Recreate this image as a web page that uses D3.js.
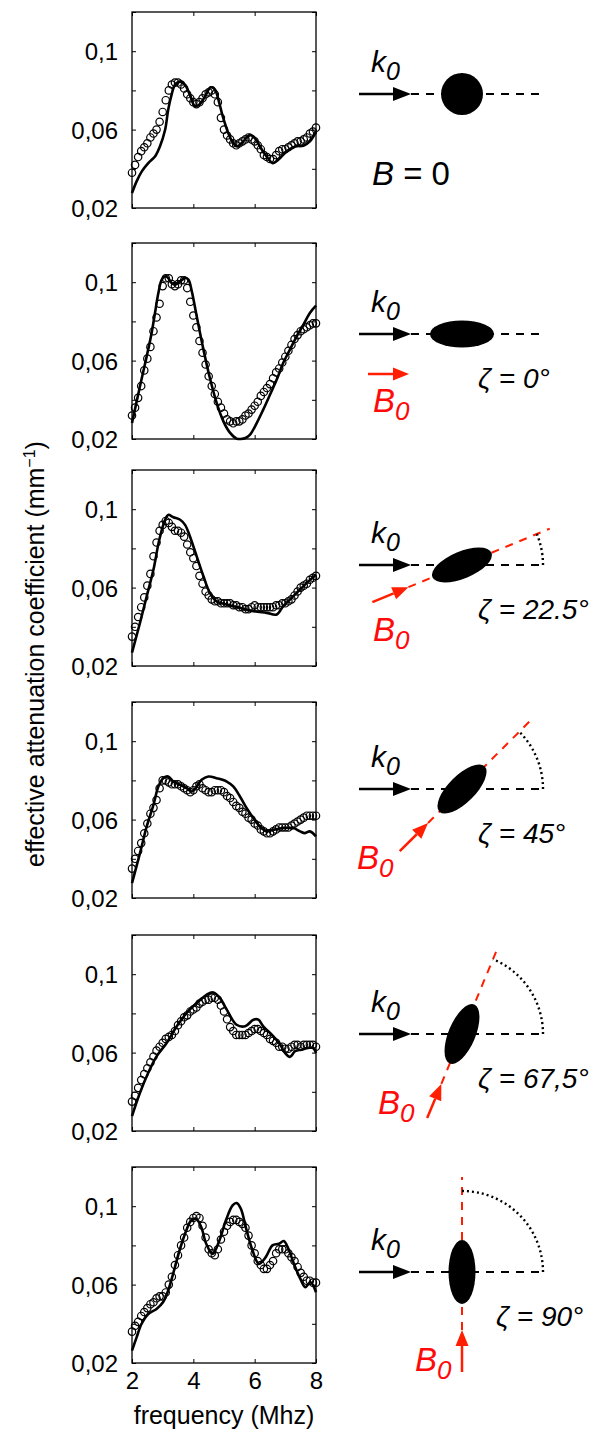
<!DOCTYPE html>
<html>
<head>
<meta charset="utf-8">
<script src="https://cdn.jsdelivr.net/npm/d3@7"></script>
<style>
  body { margin: 0; background: #fff; }
  svg { display: block; }
</style>
</head>
<body>
<svg id="chart"></svg>
<script>
// measured points (circles), one value every 0.1 MHz
var measFreq = [2.0,2.1,2.2,2.3,2.4,2.5,2.6,2.7,2.8,2.9,
                3.0,3.1,3.2,3.3,3.4,3.5,3.6,3.7,3.8,3.9,
                4.0,4.1,4.2,4.3,4.4,4.5,4.6,4.7,4.8,4.9,
                5.0,5.1,5.2,5.3,5.4,5.5,5.6,5.7,5.8,5.9,
                6.0,6.1,6.2,6.3,6.4,6.5,6.6,6.7,6.8,6.9,
                7.0,7.1,7.2,7.3,7.4,7.5,7.6,7.7,7.8,7.9,8.0];

var meas0 = [.038,.042,.046,.049,.051,.053,.056,.058,.060,.064,
             .069,.075,.080,.083,.084,.084,.083,.081,.078,.076,
             .074,.073,.074,.076,.078,.079,.080,.078,.074,.066,
             .060,.057,.055,.053,.052,.053,.054,.055,.056,.055,
             .054,.052,.050,.047,.046,.045,.045,.047,.049,.050,
             .050,.051,.052,.053,.054,.054,.055,.056,.058,.059,.061];
var meas1 = [.032,.036,.041,.047,.055,.061,.067,.075,.082,.089,
             .098,.102,.102,.099,.098,.099,.101,.101,.097,.090,
             .083,.077,.070,.064,.058,.052,.047,.043,.039,.036,
             .033,.030,.029,.028,.029,.029,.030,.032,.033,.035,
             .037,.039,.042,.044,.046,.048,.051,.054,.056,.059,
             .062,.065,.068,.071,.073,.075,.076,.077,.078,.079,.079];
var meas2 = [.035,.040,.045,.050,.055,.061,.067,.076,.083,.089,
             .092,.094,.093,.091,.089,.089,.088,.086,.082,.078,
             .075,.071,.066,.062,.058,.056,.054,.053,.053,.052,
             .052,.052,.052,.051,.051,.050,.050,.049,.049,.050,
             .051,.050,.050,.050,.050,.050,.050,.051,.051,.052,
             .052,.053,.054,.056,.058,.060,.061,.062,.064,.065,.066];
var meas3 = [.035,.040,.044,.048,.053,.058,.063,.066,.070,.076,
             .080,.080,.079,.078,.078,.078,.077,.076,.075,.074,
             .075,.077,.078,.076,.075,.074,.074,.075,.075,.075,
             .074,.072,.071,.069,.067,.066,.064,.063,.061,.060,
             .058,.057,.055,.054,.053,.053,.054,.055,.056,.056,
             .056,.056,.057,.058,.059,.060,.061,.062,.062,.062,.062];
var meas4 = [.035,.038,.042,.046,.049,.052,.055,.058,.061,.063,
             .065,.067,.068,.069,.071,.074,.076,.078,.079,.081,
             .082,.083,.085,.086,.087,.087,.088,.088,.087,.084,
             .081,.077,.073,.071,.069,.069,.069,.069,.070,.071,
             .072,.072,.071,.070,.069,.067,.066,.065,.063,.063,
             .062,.062,.063,.064,.064,.063,.064,.064,.064,.064,.063];
var meas5 = [.036,.039,.041,.044,.046,.048,.050,.051,.053,.054,
             .054,.056,.060,.064,.070,.075,.080,.084,.089,.092,
             .094,.095,.094,.090,.084,.078,.076,.075,.078,.083,
             .087,.090,.092,.093,.093,.092,.091,.089,.085,.080,
             .076,.072,.070,.068,.068,.070,.072,.076,.078,.078,
             .078,.076,.074,.072,.069,.066,.064,.062,.062,.061,.061];

// model curves (solid lines), [frequency MHz, attenuation mm^-1]
var fit0 = [[2.0,.0276],[2.15,.0336],[2.32,.0387],[2.53,.0429],[2.75,.0463],[2.91,.0514],[3.08,.0599],[3.18,.0701],
            [3.29,.0777],[3.40,.0828],[3.57,.0845],[3.73,.0828],[3.89,.0777],[4.05,.0721],[4.22,.0731],[4.38,.0769],
            [4.57,.0816],[4.71,.0803],[4.82,.0752],[4.96,.0667],[5.14,.0582],[5.30,.0531],[5.43,.0514],[5.63,.054],
            [5.85,.0574],[6.01,.0557],[6.17,.0514],[6.39,.0463],[6.59,.0429],[6.77,.0446],[7.04,.0489],[7.32,.0514],
            [7.59,.0518],[7.80,.054],[8.0,.059]];
var fit1 = [[2.0,.0282],[2.26,.0469],[2.48,.0622],[2.64,.0741],[2.75,.0843],[2.86,.0945],[2.97,.1013],[3.08,.103],
            [3.18,.1021],[3.29,.0996],[3.40,.0987],[3.57,.1004],[3.73,.1021],[3.84,.1013],[3.95,.0953],[4.11,.0826],
            [4.33,.0656],[4.54,.0511],[4.76,.0384],[4.98,.029],[5.2,.0231],[5.41,.0202],[5.55,.0200],[5.7,.0205],
            [5.85,.0222],[6.07,.0282],[6.28,.035],[6.5,.0426],[6.72,.0503],[6.93,.0588],[7.15,.0656],[7.37,.0724],
            [7.59,.0783],[7.8,.0843],[8.0,.088]];
var fit2 = [[2.0,.0268],[2.26,.042],[2.48,.0556],[2.7,.0692],[2.89,.0844],[3.08,.0946],[3.18,.0971],[3.35,.0959],
            [3.57,.0946],[3.73,.092],[3.89,.0861],[4.11,.0759],[4.33,.0658],[4.54,.0573],[4.76,.053],[5.09,.0514],
            [5.52,.0497],[5.96,.048],[6.39,.0471],[6.72,.0463],[6.93,.0505],[7.15,.0539],[7.37,.0573],[7.7,.0624],
            [8.0,.0666]];
var fit3 = [[2.0,.0276],[2.26,.0429],[2.48,.0565],[2.7,.0675],[2.86,.0769],[3.02,.0811],[3.18,.082],[3.35,.0794],
            [3.57,.0777],[3.78,.076],[3.95,.0743],[4.11,.0769],[4.27,.0803],[4.49,.082],[4.76,.0811],[5.09,.0794],
            [5.3,.0769],[5.52,.0718],[5.74,.0658],[5.96,.0607],[6.17,.0565],[6.39,.054],[6.61,.0548],[6.93,.0557],
            [7.26,.0557],[7.48,.054],[7.64,.0531],[7.8,.054],[8.0,.0514]];
var fit4 = [[2.0,.0276],[2.26,.0395],[2.53,.0497],[2.8,.0581],[3.13,.0649],[3.46,.0734],[3.78,.0802],[4.11,.0853],
            [4.43,.0895],[4.65,.0907],[4.87,.0878],[5.09,.0819],[5.41,.0742],[5.69,.0734],[5.96,.0768],[6.12,.0768],
            [6.28,.0734],[6.61,.0683],[6.83,.0641],[6.99,.0598],[7.15,.0578],[7.32,.0607],[7.53,.0615],[7.75,.0624],
            [7.91,.0624],[8.0,.0598]];
var fit5 = [[2.0,.0263],[2.15,.0331],[2.31,.0399],[2.53,.045],[2.8,.0476],[3.01,.051],[3.18,.057],[3.34,.0655],
            [3.55,.0774],[3.77,.0876],[3.93,.0927],[4.09,.0936],[4.26,.0893],[4.42,.0808],[4.63,.0757],[4.85,.0825],
            [5.06,.0927],[5.28,.1004],[5.41,.1016],[5.55,.0987],[5.71,.0893],[5.93,.0774],[6.14,.0706],[6.36,.074],
            [6.58,.08],[6.79,.0808],[6.95,.0822],[7.12,.0774],[7.28,.0706],[7.49,.0629],[7.65,.0587],[7.82,.0612],
            [8.0,.0561]];

var measured = [meas0, meas1, meas2, meas3, meas4, meas5];
var fits = [fit0, fit1, fit2, fit3, fit4, fit5];

// angle between k0 and B0 for each row (first row: no field)
var zetaDeg = [null, 0, 22.5, 45, 67.5, 90];
var zetaText = ["", "\u03B6 = 0\u00B0", "\u03B6 = 22.5\u00B0", "\u03B6 = 45\u00B0", "\u03B6 = 67,5\u00B0", "\u03B6 = 90\u00B0"];

var xTicks = [2, 4, 6, 8];
var yTicks = [0.02, 0.04, 0.06, 0.08, 0.1, 0.12];
var yTickLabels = ["0,02", "", "0,06", "", "0,1", ""];

// ---- layout ----
var W = 599, H = 1435;
var plotLeft = 132, plotW = 184, plotH = 196;
var panelTop = [12, 243, 470, 702, 935, 1167];
var diagY = [94, 334, 565, 789, 1034, 1272];
var diagX = 462;
var bLabelPos = [[372, 91], [373, 84], [373, 82], [357, 86], [378, 86], [415, 105]];
var bArrowDist = [null, null, [58, 97], [48, 88], [54, 91], [58, 100]];
var FONT = "'Liberation Sans', Arial, Helvetica, sans-serif";
var RED = "#ff1e00";
var RED_TEXT = "#ff0a0a";

var svg = d3.select("#chart").attr("width", W).attr("height", H)
    .style("font-family", FONT);

var x = d3.scaleLinear().domain([2, 8]).range([0, plotW]);
var y = d3.scaleLinear().domain([0.02, 0.12]).range([plotH, 0]);

var line = d3.line()
    .x(function(d) { return x(d[0]); })
    .y(function(d) { return y(d[1]); })
    .curve(d3.curveCatmullRom.alpha(0.5));

function drawPanel(i) {
    var g = svg.append("g").attr("transform", "translate(" + plotLeft + "," + panelTop[i] + ")");

    g.append("path")
        .datum(fits[i])
        .attr("d", line)
        .attr("fill", "none")
        .attr("stroke", "#000")
        .attr("stroke-width", 2.6)
        .attr("stroke-linejoin", "round");

    g.selectAll("circle.meas")
        .data(measured[i])
        .enter().append("circle")
        .attr("class", "meas")
        .attr("cx", function(d, k) { return x(measFreq[k]); })
        .attr("cy", function(d) { return y(d); })
        .attr("r", 3.7)
        .attr("fill", "none")
        .attr("stroke", "#000")
        .attr("stroke-width", 1.2);

    var isLast = i === fits.length - 1;

    var left = g.append("g").call(d3.axisLeft(y).tickValues(yTicks)
        .tickSize(-4).tickSizeOuter(0).tickPadding(14)
        .tickFormat(function(d, k) { return yTickLabels[k]; }));
    var right = g.append("g").attr("transform", "translate(" + plotW + ",0)")
        .call(d3.axisRight(y).tickValues(yTicks).tickSize(-4).tickSizeOuter(0).tickFormat(""));
    var top = g.append("g")
        .call(d3.axisTop(x).tickValues(xTicks).tickSize(-4).tickSizeOuter(0).tickFormat(""));
    var bottom = g.append("g").attr("transform", "translate(0," + plotH + ")")
        .call(d3.axisBottom(x).tickValues(xTicks).tickSize(-4).tickSizeOuter(0).tickPadding(9)
            .tickFormat(isLast ? d3.format("d") : ""));

    [left, right, top, bottom].forEach(function(a) {
        a.selectAll("path.domain").remove();
        a.selectAll(".tick line").attr("stroke", "#000").attr("stroke-width", 1);
        a.selectAll(".tick text")
            .attr("fill", "#000")
            .style("font-size", "24px")
            .style("font-family", FONT);
    });
    left.selectAll(".tick text").attr("dy", "0.36em");
    bottom.selectAll(".tick text").attr("dy", "0.72em");

    g.append("rect")
        .attr("width", plotW)
        .attr("height", plotH)
        .attr("fill", "none")
        .attr("stroke", "#000")
        .attr("stroke-width", 1.3);
}

function arrow(g, x1, y1, x2, y2, color, headLen, headHalf, width) {
    var a = Math.atan2(y2 - y1, x2 - x1);
    var bx = x2 - headLen * Math.cos(a), by = y2 - headLen * Math.sin(a);
    g.append("line")
        .attr("x1", x1).attr("y1", y1).attr("x2", bx).attr("y2", by)
        .attr("stroke", color).attr("stroke-width", width);
    var px = -Math.sin(a) * headHalf, py = Math.cos(a) * headHalf;
    g.append("path")
        .attr("d", "M" + x2 + "," + y2 + "L" + (bx + px) + "," + (by + py) + "L" + (bx - px) + "," + (by - py) + "Z")
        .attr("fill", color);
}

function subText(g, xPos, yPos, main, sub, color, mainSize, subSize) {
    var t = g.append("text")
        .attr("x", xPos).attr("y", yPos)
        .attr("fill", color)
        .style("font-style", "italic");
    t.append("tspan").style("font-size", mainSize + "px").text(main);
    t.append("tspan").attr("dy", 8).style("font-size", subSize + "px").text(sub);
    return t;
}

function drawDiagram(i) {
    var g = svg.append("g");
    var cx = diagX, cy = diagY[i], R = 81;
    var z = zetaDeg[i];

    // dashed continuation of k0
    g.append("line")
        .attr("x1", 411).attr("y1", cy).attr("x2", cx + R).attr("y2", cy)
        .attr("stroke", "#000").attr("stroke-width", 2).attr("stroke-dasharray", "8,7");

    if (z !== null && z > 0) {
        var rad = z * Math.PI / 180, ux = Math.cos(rad), uy = -Math.sin(rad);
        var tip = bArrowDist[i][0], tail = bArrowDist[i][1];
        // dashed field direction through the particle
        g.append("line")
            .attr("x1", cx - tip * ux).attr("y1", cy - tip * uy)
            .attr("x2", cx + 95 * ux).attr("y2", cy + 95 * uy)
            .attr("stroke", RED).attr("stroke-width", 2).attr("stroke-dasharray", "8,7");
        // angle arc
        g.append("path")
            .attr("d", "M" + (cx + R) + "," + cy + "A" + R + "," + R + " 0 0 0 " + (cx + R * ux) + "," + (cy + R * uy))
            .attr("fill", "none").attr("stroke", "#000").attr("stroke-width", 2.4)
            .attr("stroke-dasharray", "2,3");
        arrow(g, cx - tail * ux, cy - tail * uy, cx - tip * ux, cy - tip * uy, RED, 16, 6.5, 2.5);
    } else if (z === 0) {
        arrow(g, 368, cy + 40, 409, cy + 40, RED, 16, 6.5, 2.5);
    }

    // particle
    if (z === null) {
        g.append("circle").attr("cx", cx).attr("cy", cy).attr("r", 21).attr("fill", "#000");
    } else {
        g.append("ellipse")
            .attr("transform", "translate(" + cx + "," + cy + ") rotate(" + (-z) + ")")
            .attr("rx", 32).attr("ry", 13.5).attr("fill", "#000");
    }

    // incident wave vector
    arrow(g, 359, cy, 411, cy, "#000", 18, 7, 2.3);
    subText(g, 371, cy - 22, "k", "0", "#000", 30, 25);

    // field label
    var bp = bLabelPos[i];
    if (z === null) {
        var t = g.append("text").attr("x", bp[0]).attr("y", cy + bp[1]).attr("fill", "#000")
            .style("font-size", "33px");
        t.append("tspan").style("font-style", "italic").text("B");
        t.append("tspan").text(" = 0");
    } else {
        subText(g, bp[0], cy + bp[1] - 6, "B", "0", RED_TEXT, 33, 26);
        g.append("text")
            .attr("x", z === 90 ? 496 : 478).attr("y", cy + 54)
            .attr("fill", "#000")
            .style("font-size", "28px").style("font-style", "italic")
            .text(zetaText[i]);
    }
}

for (var i = 0; i < fits.length; i++) {
    drawPanel(i);
    drawDiagram(i);
}

// axis titles
var yl = svg.append("text")
    .attr("transform", "translate(44,654) rotate(-90)")
    .attr("text-anchor", "middle")
    .attr("fill", "#000")
    .style("font-size", "25px");
yl.append("tspan").text("effective attenuation coefficient (mm");
yl.append("tspan").attr("dy", -9).style("font-size", "16px").text("\u22121");
yl.append("tspan").attr("dy", 9).text(")");

svg.append("text")
    .attr("x", plotLeft + plotW / 2).attr("y", 1424)
    .attr("text-anchor", "middle")
    .attr("fill", "#000")
    .style("font-size", "25px")
    .text("frequency (Mhz)");
</script>
</body>
</html>
